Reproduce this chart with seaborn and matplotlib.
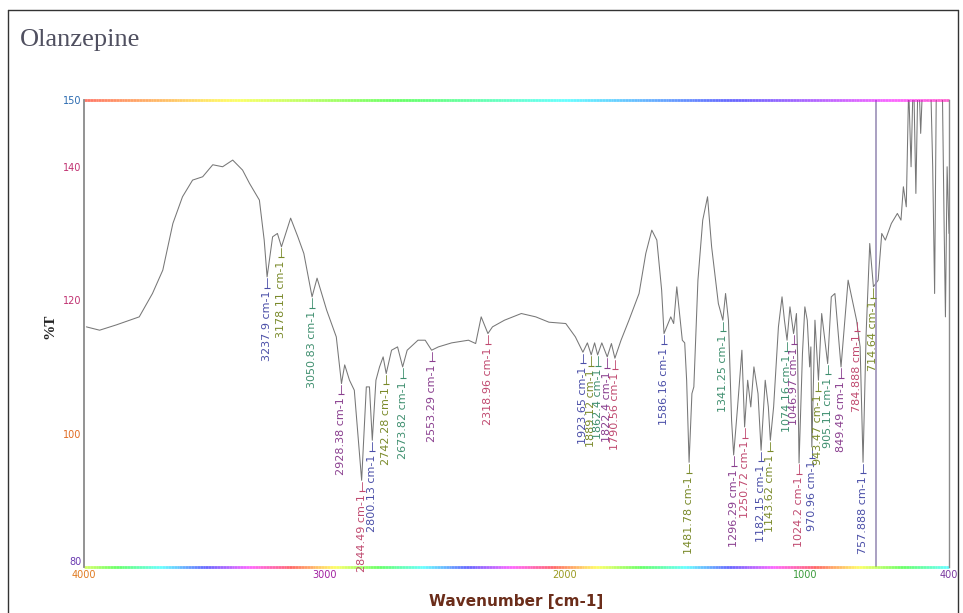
import numpy as np
import matplotlib
matplotlib.use("Agg")
import matplotlib.pyplot as plt
import seaborn as sns
from matplotlib.collections import LineCollection
from matplotlib.lines import Line2D
from matplotlib.transforms import ScaledTranslation

sns.set_style("white")

# IR spectrum trace (wavenumber in cm-1, %T)
wavenumber = [
    3990, 3935, 3865, 3810, 3770, 3715, 3672, 3630, 3590, 3548,
    3506, 3464, 3423, 3381, 3340, 3311, 3270, 3250, 3237.9, 3215,
    3195, 3178.11, 3140, 3110, 3085, 3050.83, 3030, 2990, 2960, 2950,
    2928.38, 2915, 2895, 2875, 2844.49, 2825, 2812, 2800.13, 2785, 2770,
    2755, 2742.28, 2720, 2695, 2673.82, 2655, 2610, 2580, 2553.29, 2525,
    2470, 2400, 2370, 2347, 2330, 2318.96, 2300, 2250, 2180, 2120,
    2065, 1995, 1955, 1923.65, 1905, 1889.12, 1875, 1862.4, 1845, 1822.4,
    1805, 1790.56, 1765, 1732, 1690, 1662, 1637, 1616, 1596, 1586.16,
    1558, 1546, 1533, 1510, 1500, 1492, 1481.78, 1470, 1462, 1445,
    1425, 1405, 1388, 1360, 1341.25, 1330, 1318, 1305, 1296.29, 1280,
    1262, 1250.72, 1238, 1225, 1212, 1195, 1182.15, 1165, 1152, 1143.62,
    1130, 1110, 1095, 1085, 1074.16, 1062, 1046.97, 1035, 1030, 1024.2,
    1010, 1000, 990, 980, 975, 970.96, 958, 943.47, 930, 905.11,
    890, 875, 849.49, 820, 784.888, 770, 757.888, 745, 730, 714.64,
    695, 680, 665, 640, 615, 600, 590, 578, 568, 558,
    548, 538, 528, 518, 505, 492, 480, 468, 460, 452,
    440, 430, 420, 415, 408, 400,
]
transmittance = [
    116, 115.5, 116.3, 117, 117.5, 121, 124.5, 131.5, 135.5, 138,
    138.5, 140.3, 140, 141, 139.5, 137.5, 135, 129, 123.5, 129.5,
    130, 128, 132.3, 129.5, 127, 120.5, 123.3, 118.5, 115.5, 114.5,
    107.5, 110.3, 108, 106.5, 93, 107, 107, 99, 108, 110,
    111.5, 109, 112.5, 113, 110, 112.5, 114, 114, 112.5, 113,
    113.6, 114, 113.5, 117.5, 116, 115, 116, 117, 118, 117.5,
    116.7, 116.5, 114.5, 112.2, 113.6, 111.8, 113.6, 111.8, 113.6, 111.5,
    113.5, 111.3, 114, 117, 121, 127, 130.5, 129, 121.5, 115,
    117.5, 116.5, 122, 114, 113.6, 108, 95.7, 106, 107, 123,
    132, 135.5, 128, 119.5, 117, 121, 117, 102, 96.8, 104,
    112.5, 101, 108, 104, 110, 106, 97.5, 108, 104, 99,
    104, 116, 120.5, 117, 114, 119, 115, 118, 111.5, 95.6,
    112, 119, 117, 110, 113, 98, 117, 108, 118, 110.5,
    120.5, 121, 110, 123, 117, 113, 95.7, 115, 128.5, 122,
    123, 130, 129, 131.5, 133, 132, 137, 134, 152, 140,
    155, 136, 156, 145, 157, 150, 158, 140, 121, 156,
    152, 158, 130, 117.5, 140, 130,
]

peak_labels = [
    "3237.9", "3178.11", "3050.83", "2928.38", "2844.49", "2800.13",
    "2742.28", "2673.82", "2553.29", "2318.96", "1923.65", "1889.12",
    "1862.4", "1822.4", "1790.56", "1586.16", "1481.78", "1341.25",
    "1296.29", "1250.72", "1182.15", "1143.62", "1074.16", "1046.97",
    "1024.2", "970.96", "943.47", "905.11", "849.49", "784.888",
    "757.888", "714.64",
]
peak_colors = ["#4b4fa8", "#7a8a2a", "#3f8f6f", "#8a3f8f", "#c04a70"]

x_ticks = [4000, 3000, 2000, 1000, 400]
x_minor = [3500, 2500, 1500, 500]
x_tick_colors = ["#e07a20", "#a020a0", "#9a9a20", "#3a9a3a", "#7a3aa0"]
y_ticks = [150, 140, 120, 100, 80]
y_minor = [130, 110, 90]
y_tick_colors = ["#2a6ab0", "#c03070", "#c03070", "#e06a20", "#6a3ab0"]

fig = plt.figure(figsize=(9.63, 6.13), dpi=100)
ax = fig.add_axes([0.0872, 0.075, 0.8983, 0.7618])

sns.lineplot(x=wavenumber, y=transmittance, sort=False, estimator=None,
             color="#777777", lw=0.75, ax=ax)
ax.set_xlim(4000, 400)
ax.set_ylim(80, 150)

# cursor line
ax.axvline(705, color="#9b90b8", lw=1.2)

# peak annotations
wn = np.array(wavenumber)
tr = np.array(transmittance)
for i, lab in enumerate(peak_labels):
    w = float(lab)
    t = tr[np.argmin(np.abs(wn - w))]
    c = peak_colors[i % len(peak_colors)]
    ax.plot([w, w], [t - 0.2, t - 1.6], color=c, lw=0.6)
    ax.plot(w, t - 1.6, marker="_", ms=5, mew=0.8, color=c)
    ax.text(w, t - 2.1, f"{lab} cm-1", rotation=90, ha="center", va="top",
            fontsize=8, color=c)

# ticks
ax.set_xticks(x_ticks)
ax.set_xticklabels([str(v) for v in x_ticks])
ax.set_xticks(x_minor, minor=True)
ax.set_yticks(y_ticks)
ax.set_yticklabels([str(v) for v in y_ticks])
ax.set_yticks(y_minor, minor=True)
ax.tick_params(which="both", direction="in", length=3, color="#777777",
               labelsize=7, pad=2)
for lbl, c in zip(ax.get_xticklabels(), x_tick_colors):
    lbl.set_color(c)
for lbl, c in zip(ax.get_yticklabels(), y_tick_colors):
    lbl.set_color(c)
# the bottom %T label sits just above the 4000 label
ylbls = ax.get_yticklabels()
ylbls[-1].set_transform(ylbls[-1].get_transform()
                        + ScaledTranslation(0, 4 / 72, fig.dpi_scale_trans))
ax.set_xlabel("")
ax.set_ylabel("")

# spines: gray sides, rainbow top and bottom
ax.spines["top"].set_visible(False)
ax.spines["bottom"].set_visible(False)
ax.spines["left"].set_color("#8a8a8a")
ax.spines["left"].set_linewidth(1.3)
ax.spines["right"].set_color("#8a8a8a")
ax.spines["right"].set_linewidth(1.0)

s = np.linspace(0, 1, 300)
for ypos, hue in [(1.0, (0.02 + 0.88 * s) % 1), (0.0, (0.22 + 3.3 * s) % 1)]:
    pts = np.column_stack([s, np.full_like(s, ypos)])
    segs = np.stack([pts[:-1], pts[1:]], axis=1)
    lc = LineCollection(segs, colors=plt.cm.hsv(hue[:-1]), lw=2.0, alpha=0.6,
                        transform=ax.transAxes, clip_on=False)
    ax.add_collection(lc)

# titles and axis labels
fig.text(0.021, 0.935, "Olanzepine", fontsize=19, family="Liberation Serif",
         color="#505060", ha="left", va="center")
fig.text(0.052, 0.467, "%T", fontsize=11, family="Liberation Serif",
         fontweight="bold", color="#222222", rotation=90, ha="center", va="center")
fig.text(0.536, 0.019, "Wavenumber [cm-1]", fontsize=11, fontweight="bold",
         color="#6b2d1a", ha="center", va="center")

# outer frame
frame = dict(color="#333333", lw=1.0, transform=fig.transFigure)
fig.add_artist(Line2D([0.0083, 0.0083], [0.0, 0.9837], **frame))
fig.add_artist(Line2D([0.0083, 0.9948], [0.9837, 0.9837], **frame))
fig.add_artist(Line2D([0.9948, 0.9948], [0.0, 0.9837], **frame))

fig.savefig("out.png", dpi=100)
